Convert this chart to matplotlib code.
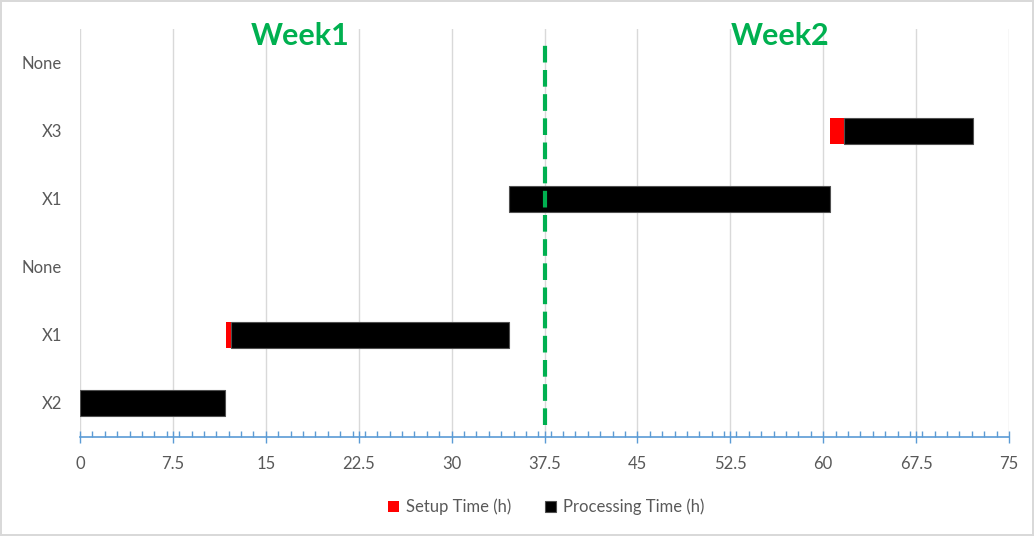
import numpy as np
import matplotlib.pyplot as plt
from matplotlib.ticker import MultipleLocator

tasks = ['X2', 'X1', 'None', 'X1', 'X3', 'None']
start = [0, 11.75, 0, 34.6, 60.55, 0]
setup = [0, 0.4, 0, 0, 1.15, 0]
processing = [11.7, 22.45, 0, 25.95, 10.4, 0]
week_split = 37.5
week_labels = ['Week1', 'Week2']
week_pos = [17.8, 56.5]

plt.rcParams['font.family'] = ['Lato', 'DejaVu Sans']
grey = '#595959'
green = '#00B050'
blue = '#5B9BD5'

fig = plt.figure(figsize=(10.34, 5.36), dpi=100)
fig.patch.set_edgecolor('#D9D9D9')
fig.patch.set_linewidth(1.5)
ax = fig.add_axes([0.0774, 0.1847, 0.8984, 0.7613])

y = np.arange(len(tasks))
left2 = np.array(start) + np.array(setup)
edge_w = [0.8 if p > 0 else 0 for p in processing]
ax.barh(y, setup, left=start, height=0.39, color='#FF0000', label='Setup Time (h)', zorder=3)
ax.barh(y, processing, left=left2, height=0.39, color='black', edgecolor='#505050',
        linewidth=edge_w, label='Processing Time (h)', zorder=3)

ax.plot([week_split, week_split], [-0.32, 5.31], color=green, lw=3, dashes=(4, 1.8), zorder=4)
for lbl, xp in zip(week_labels, week_pos):
    ax.text(xp, 5.4, lbl, color=green, fontsize=22, fontweight='bold', ha='center', va='center')

ax.set_xlim(0, 75)
ax.set_ylim(-0.5, 5.5)
ax.xaxis.set_minor_locator(MultipleLocator(1))
ticks = np.arange(0, 75.1, 7.5)
ax.set_xticks(ticks)
ax.set_xticklabels([('%g' % t) for t in ticks])
ax.set_yticks(y)
ax.set_yticklabels(tasks)
ax.grid(axis='x', color='#D9D9D9', lw=1, zorder=0)
ax.tick_params(axis='x', which='major', direction='inout', length=8, width=1, color=blue,
               labelcolor=grey, labelsize=12, pad=10)
ax.tick_params(axis='x', which='minor', direction='in', length=4, width=1, color=blue)
ax.tick_params(axis='y', length=0, labelcolor=grey, labelsize=12, pad=13)
for s in ['top', 'right', 'left']:
    ax.spines[s].set_visible(False)
ax.spines['bottom'].set_color(blue)
ax.spines['bottom'].set_linewidth(1.2)

fig.legend(loc='center', bbox_to_anchor=(0.528, 0.054), ncol=2, frameon=False,
           handlelength=0.7, handleheight=0.7, handletextpad=0.4, columnspacing=2,
           fontsize=12, labelcolor=grey)

fig.savefig('out.png', dpi=100)
